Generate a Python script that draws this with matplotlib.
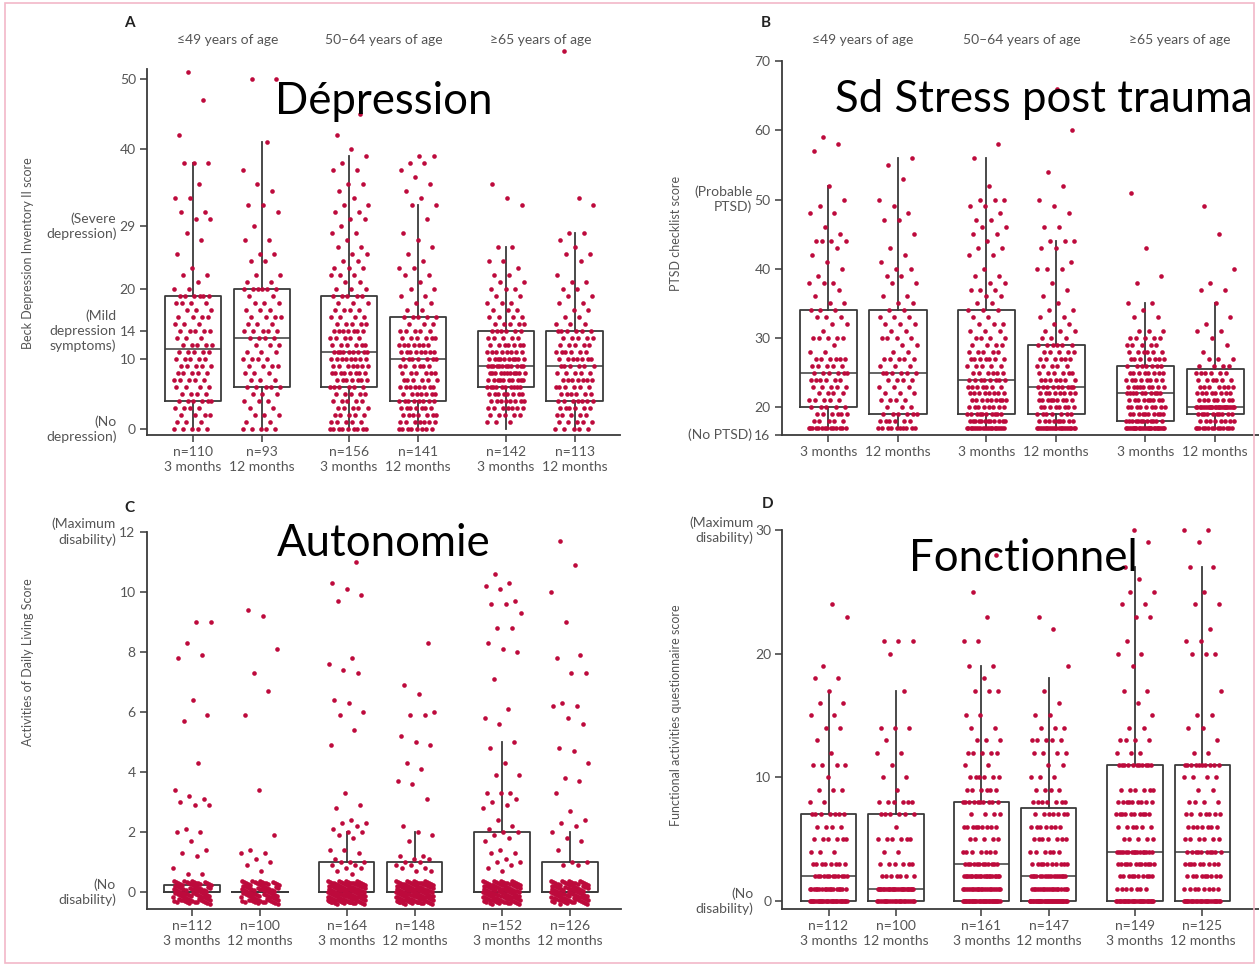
import numpy as np
import matplotlib.pyplot as plt
from matplotlib.transforms import blended_transform_factory
from matplotlib.patches import Rectangle

W, H = 1259, 966

# --- box positions and labels shared by all four panels ---
positions = [0, 1, 2.27, 3.27, 4.55, 5.55]
months = ["3 months", "12 months"] * 3
age_groups = ["≤49 years of age", "50–64 years of age", "≥65 years of age"]

# --- A: Beck Depression Inventory II (value: count per box) ---
bdi_n = [110, 93, 156, 141, 142, 113]
bdi_counts = [
    {0: 5, 1: 3, 2: 4, 3: 4, 4: 6, 5: 4, 6: 4, 7: 5, 8: 5, 9: 5, 10: 5, 11: 5, 12: 5, 13: 3,
     14: 5, 15: 3, 16: 4, 17: 3, 18: 4, 19: 6, 20: 2, 21: 1, 22: 2, 23: 1, 25: 1, 27: 1,
     28: 1, 30: 2, 31: 2, 33: 2, 35: 1, 38: 3, 42: 1, 47: 1, 51: 1},
    {0: 5, 1: 2, 2: 3, 3: 2, 4: 3, 5: 3, 6: 5, 7: 3, 8: 3, 9: 4, 10: 4, 11: 3, 12: 3, 13: 4,
     14: 5, 15: 3, 16: 4, 17: 3, 18: 3, 19: 2, 20: 6, 21: 2, 22: 2, 24: 2, 25: 2, 27: 2,
     29: 1, 31: 1, 32: 2, 34: 1, 35: 1, 37: 1, 41: 1, 50: 2},
    {0: 9, 1: 5, 2: 5, 3: 5, 4: 5, 5: 5, 6: 6, 7: 7, 8: 8, 9: 7, 10: 8, 11: 9, 12: 6, 13: 5,
     14: 7, 15: 5, 16: 4, 17: 4, 18: 3, 19: 5, 20: 3, 21: 2, 22: 3, 23: 3, 24: 2, 25: 2,
     26: 2, 27: 1, 28: 2, 29: 1, 30: 2, 31: 2, 32: 2, 33: 1, 34: 1, 35: 2, 37: 2, 38: 1,
     39: 1, 40: 1, 42: 1, 45: 1},
    {0: 8, 1: 7, 2: 7, 3: 7, 4: 8, 5: 7, 6: 8, 7: 6, 8: 6, 9: 6, 10: 7, 11: 8, 12: 7, 13: 6,
     14: 5, 15: 3, 16: 5, 17: 2, 18: 2, 19: 2, 20: 2, 21: 1, 22: 2, 23: 2, 24: 1, 25: 1,
     26: 1, 27: 1, 28: 1, 30: 1, 32: 2, 33: 1, 34: 1, 35: 1, 36: 1, 37: 1, 38: 2, 39: 2},
    {1: 3, 2: 5, 3: 7, 4: 8, 5: 8, 6: 10, 7: 10, 8: 11, 9: 12, 10: 10, 11: 8, 12: 7, 13: 5,
     14: 6, 15: 5, 16: 4, 17: 3, 18: 3, 19: 2, 20: 3, 21: 2, 22: 2, 23: 1, 24: 2, 26: 2,
     32: 1, 33: 1, 35: 1},
    {0: 5, 1: 5, 2: 5, 3: 6, 4: 7, 5: 6, 6: 6, 7: 7, 8: 5, 9: 6, 10: 7, 11: 6, 12: 5, 13: 5,
     14: 6, 15: 3, 16: 2, 17: 2, 18: 2, 19: 2, 20: 2, 21: 2, 22: 1, 24: 1, 25: 2, 26: 1,
     27: 1, 28: 2, 32: 1, 33: 1, 54: 1},
]
bdi_q1 = [4, 6, 6, 4, 6, 4]
bdi_med = [11.5, 13, 11, 10, 9, 9]
bdi_q3 = [19, 20, 19, 16, 14, 14]
bdi_lo = [0, 0, 0, 0, 0, 0]
bdi_hi = [38, 41, 39, 32, 26, 28]

# --- B: PTSD checklist ---
pcl_counts = [
    {17: 14, 18: 5, 19: 6, 20: 5, 21: 5, 22: 4, 23: 5, 24: 6, 25: 6, 26: 5, 27: 6, 28: 2,
     29: 1, 30: 5, 31: 1, 32: 2, 33: 3, 34: 3, 35: 2, 36: 1, 37: 1, 38: 3, 39: 1, 40: 1,
     41: 1, 42: 1, 43: 1, 44: 4, 45: 1, 46: 1, 48: 2, 49: 1, 50: 1, 52: 1, 57: 1, 58: 1,
     59: 1},
    {17: 10, 18: 6, 19: 6, 20: 3, 21: 4, 22: 3, 23: 3, 24: 4, 25: 6, 26: 3, 27: 5, 28: 2,
     29: 2, 30: 4, 31: 2, 32: 3, 33: 3, 34: 2, 35: 2, 36: 2, 38: 2, 39: 2, 40: 2, 41: 1,
     42: 1, 43: 1, 45: 1, 47: 2, 48: 1, 49: 1, 50: 1, 53: 1, 55: 1, 56: 1},
    {17: 20, 18: 12, 19: 10, 20: 8, 21: 9, 22: 8, 23: 7, 24: 8, 25: 6, 26: 5, 27: 7, 28: 5,
     29: 4, 30: 4, 31: 3, 32: 3, 33: 2, 34: 3, 35: 2, 36: 2, 37: 3, 38: 2, 39: 2, 40: 1,
     42: 2, 43: 2, 44: 1, 45: 2, 46: 2, 47: 2, 48: 1, 49: 2, 50: 3, 52: 1, 56: 1, 58: 1},
    {17: 22, 18: 9, 19: 7, 20: 8, 21: 9, 22: 8, 23: 9, 24: 7, 25: 6, 26: 5, 27: 6, 28: 5,
     29: 6, 30: 3, 31: 3, 32: 2, 33: 2, 34: 2, 35: 1, 36: 1, 37: 1, 38: 1, 40: 3, 41: 1,
     43: 2, 44: 3, 46: 2, 48: 1, 49: 1, 50: 1, 52: 1, 54: 1, 60: 1, 66: 1},
    {17: 25, 18: 12, 19: 10, 20: 9, 21: 9, 22: 10, 23: 9, 24: 8, 25: 8, 26: 7, 27: 7, 28: 6,
     29: 5, 30: 5, 31: 3, 33: 2, 34: 1, 35: 2, 38: 1, 39: 1, 43: 1, 51: 1},
    {17: 14, 18: 8, 19: 10, 20: 25, 21: 8, 22: 8, 23: 7, 24: 6, 25: 6, 26: 4, 27: 3, 28: 1,
     29: 1, 30: 1, 31: 2, 32: 1, 33: 1, 35: 1, 37: 2, 38: 1, 40: 1, 45: 1, 49: 1},
]
pcl_q1 = [20, 19, 19, 19, 18, 19]
pcl_med = [25, 25, 24, 23, 22, 20]
pcl_q3 = [34, 34, 34, 29, 26, 25.5]
pcl_lo = [17, 17, 17, 17, 17, 17]
pcl_hi = [52, 56, 56, 44, 35, 35]

# --- C: Activities of Daily Living (non-zero scores; the rest are 0) ---
adl_n = [112, 100, 164, 148, 152, 126]
adl_nonzero = [
    [9.0, 9.0, 8.3, 7.9, 7.8, 6.4, 5.9, 5.7, 4.3, 3.4, 3.2, 3.1, 3.0, 2.9, 2.9, 2.1, 2.0,
     2.0, 1.7, 1.4, 1.3, 1.2, 0.8, 0.6, 0.6],
    [9.4, 9.2, 8.1, 7.3, 6.7, 5.9, 3.4, 1.9, 1.4, 1.3, 1.3, 1.1, 1.0, 0.9, 0.7],
    [11.0, 10.3, 10.1, 9.9, 9.7, 7.8, 7.6, 7.4, 7.3, 6.4, 6.3, 6.0, 5.9, 5.4, 4.9, 3.3,
     2.9, 2.8, 2.4, 2.3, 2.3, 2.2, 2.1, 2.0, 2.0, 1.9, 1.8, 1.4, 1.4, 1.3, 1.1, 1.0, 1.0,
     1.0, 0.9, 0.9, 0.8, 0.8, 0.7, 0.6],
    [8.3, 6.9, 6.6, 6.0, 5.9, 5.9, 5.2, 5.0, 4.9, 4.3, 4.1, 3.7, 3.6, 3.1, 2.2, 2.0, 1.9,
     1.7, 1.2, 1.2, 1.1, 1.1, 1.0, 1.0, 0.9, 0.9, 0.8, 0.8, 0.7, 0.7],
    [10.6, 10.3, 10.2, 10.1, 9.7, 9.6, 9.6, 9.3, 8.8, 8.8, 8.3, 8.1, 8.0, 7.1, 6.1, 5.8,
     5.6, 5.0, 4.8, 4.3, 3.9, 3.9, 3.3, 3.3, 3.3, 3.1, 3.0, 2.9, 2.8, 2.4, 2.2, 2.1, 2.0,
     2.0, 1.9, 1.8, 1.7, 1.4, 1.3, 1.3, 1.1, 1.0, 1.0, 0.9, 0.8, 0.7],
    [11.7, 10.9, 10.0, 9.0, 7.9, 7.8, 7.3, 7.3, 6.3, 6.2, 6.2, 5.8, 5.6, 4.8, 4.7, 4.3,
     3.8, 3.7, 3.3, 2.7, 2.4, 2.3, 2.2, 2.0, 1.8, 1.7, 1.4, 1.0, 1.0, 0.9, 0.9],
]
adl_q1 = [0, 0, 0, 0, 0, 0]
adl_med = [0, 0, 0, 0, 0, 0]
adl_q3 = [0.25, 0, 1, 1, 2, 1]
adl_lo = [0, 0, 0, 0, 0, 0]
adl_hi = [0.25, 0, 2, 2, 5, 2]

# --- D: Functional activities questionnaire ---
faq_n = [112, 100, 161, 147, 149, 125]
faq_counts = [
    {0: 30, 1: 18, 2: 12, 3: 8, 4: 3, 5: 6, 6: 4, 7: 7, 8: 2, 9: 3, 10: 1, 11: 4, 12: 1,
     13: 1, 14: 2, 15: 2, 16: 2, 17: 1, 18: 2, 19: 1, 23: 1, 24: 1},
    {0: 24, 1: 27, 2: 7, 3: 6, 4: 2, 5: 6, 6: 1, 7: 6, 8: 6, 9: 1, 10: 2, 11: 1, 12: 2,
     13: 1, 14: 3, 17: 1, 20: 1, 21: 3},
    {0: 33, 1: 23, 2: 21, 3: 12, 4: 7, 5: 5, 6: 9, 7: 4, 8: 10, 9: 6, 10: 6, 11: 2, 12: 5,
     13: 3, 14: 2, 15: 2, 17: 3, 18: 1, 19: 2, 21: 2, 23: 1, 25: 1, 28: 1},
    {0: 38, 1: 20, 2: 17, 3: 10, 4: 6, 5: 7, 6: 7, 7: 7, 8: 7, 9: 4, 10: 3, 11: 2, 12: 4,
     13: 5, 14: 3, 15: 2, 16: 1, 17: 1, 19: 1, 22: 1, 23: 1},
    {0: 30, 1: 7, 2: 10, 3: 12, 4: 16, 5: 5, 6: 6, 7: 10, 8: 9, 9: 6, 11: 11, 12: 3, 13: 4,
     14: 2, 15: 1, 16: 1, 17: 2, 19: 1, 20: 2, 21: 1, 23: 2, 24: 2, 25: 2, 26: 1, 27: 1,
     29: 1, 30: 1},
    {0: 27, 1: 8, 2: 9, 3: 9, 4: 10, 5: 6, 6: 7, 7: 7, 8: 4, 9: 2, 10: 4, 11: 10, 12: 2,
     13: 1, 14: 2, 15: 2, 17: 1, 20: 3, 21: 2, 22: 1, 24: 2, 25: 1, 27: 2, 29: 1, 30: 2},
]
faq_q1 = [0, 0, 0, 0, 0, 0]
faq_med = [2, 1, 3, 2, 4, 4]
faq_q3 = [7, 7, 8, 7.5, 11, 11]
faq_lo = [0, 0, 0, 0, 0, 0]
faq_hi = [17, 17, 19, 18, 27, 27]

RED = "#BD0A3C"
INK = "#3a3a3a"
GREY = "#555555"
FONT = ["Lato", "DejaVu Sans"]
plt.rcParams["font.family"] = FONT

fig = plt.figure(figsize=(W / 100, H / 100), dpi=100)


def fx(px):
    return px / W


def fy(py):
    return 1 - py / H


def expand(counts):
    vals = []
    for v, c in counts.items():
        vals += [v] * c
    return np.array(vals, dtype=float)


def jitter_x(n):
    return ((np.arange(n) * 0.6180339887) % 1 - 0.5) * 0.56


def draw_panel(ax, groups, q1, med, q3, lo, hi, zero_jitter=False):
    stats = []
    for i in range(6):
        stats.append(dict(q1=q1[i], med=med[i], q3=q3[i], whislo=lo[i], whishi=hi[i]))
    ax.bxp(stats, positions=positions, widths=0.82, showfliers=False, showcaps=False,
           boxprops=dict(color=INK, linewidth=1.3),
           medianprops=dict(color=INK, linewidth=1.1),
           whiskerprops=dict(color=INK, linewidth=1.3), manage_ticks=False, zorder=2)
    for i, vals in enumerate(groups):
        vals = np.sort(vals)
        xs = positions[i] + jitter_x(len(vals))
        ys = vals.copy()
        if zero_jitter:
            zero = ys == 0
            k = np.arange(zero.sum())
            ys[zero] = ((k * 0.7548776662 + 0.31) % 1 - 0.5) * 0.78
        ax.scatter(xs, ys, s=11, color=RED, linewidths=0, zorder=3, clip_on=False)


def style_axes(ax, yticks, xlim, ylim, xlabels):
    ax.set_xlim(*xlim)
    ax.set_ylim(*ylim)
    for side in ("top", "right"):
        ax.spines[side].set_visible(False)
    for side in ("left", "bottom"):
        ax.spines[side].set_color(INK)
        ax.spines[side].set_linewidth(1.3)
    ax.set_yticks(yticks)
    ax.set_xticks(positions)
    ax.set_xticklabels(xlabels, linespacing=1.25)
    ax.tick_params(axis="both", direction="out", length=5, width=1.1, color=INK,
                   labelcolor=GREY, labelsize=10, pad=3)


def side_note(ax, y, text, dx):
    ax.annotate(text, xy=(0, y), xycoords=("axes fraction", "data"), xytext=(dx, 0),
                textcoords="offset points", ha="right", va="center", fontsize=10,
                color=GREY, linespacing=1.25, annotation_clip=False)


def headers(ax):
    tr = blended_transform_factory(ax.transData, fig.transFigure)
    for g, name in enumerate(age_groups):
        xc = (positions[2 * g] + positions[2 * g + 1]) / 2
        ax.text(xc, fy(40), name, transform=tr, ha="center", va="center",
                fontsize=10, color=GREY)


# ---------- A ----------
axA = fig.add_axes([fx(147), fy(435), fx(620) - fx(147), fy(69.3) - fy(435)])
draw_panel(axA, [expand(c) for c in bdi_counts], bdi_q1, bdi_med, bdi_q3, bdi_lo, bdi_hi)
style_axes(axA, [0, 10, 14, 20, 29, 40, 50], (-0.67, 6.21), (-0.86, 51.4),
           [f"n={n}\n{m}" for n, m in zip(bdi_n, months)])
side_note(axA, 29, "(Severe\ndepression)", -22)
side_note(axA, 14, "(Mild\ndepression\nsymptoms)", -22)
side_note(axA, 0, "(No\ndepression)", -22)
headers(axA)
fig.text(fx(28), fy(253), "Beck Depression Inventory II score", rotation=90,
         ha="center", va="center", fontsize=9, color=GREY)

# ---------- B ----------
axB = fig.add_axes([fx(781.6), fy(435), 1 - fx(781.6), fy(61) - fy(435)])
draw_panel(axB, [expand(c) for c in pcl_counts], pcl_q1, pcl_med, pcl_q3, pcl_lo, pcl_hi)
style_axes(axB, [16, 20, 30, 40, 50, 60, 70], (-0.67, 6.18), (16, 70), months)
side_note(axB, 50, "(Probable\nPTSD)", -21)
side_note(axB, 16, "(No PTSD)", -21)
headers(axB)
fig.text(fx(676), fy(233), "PTSD checklist score", rotation=90,
         ha="center", va="center", fontsize=9, color=GREY)

# ---------- C ----------
axC = fig.add_axes([fx(146.6), fy(909), fx(620.7) - fx(146.6), fy(531.7) - fy(909)])
adl_groups = [np.array(v + [0.0] * (n - len(v))) for v, n in zip(adl_nonzero, adl_n)]
draw_panel(axC, adl_groups, adl_q1, adl_med, adl_q3, adl_lo, adl_hi, zero_jitter=True)
style_axes(axC, [0, 2, 4, 6, 8, 10, 12], (-0.67, 6.3), (-0.556, 12),
           [f"n={n}\n{m}" for n, m in zip(adl_n, months)])
side_note(axC, 12, "(Maximum\ndisability)", -22)
side_note(axC, 0, "(No\ndisability)", -22)
fig.text(fx(28), fy(662), "Activities of Daily Living Score", rotation=90,
         ha="center", va="center", fontsize=9, color=GREY)

# ---------- D ----------
axD = fig.add_axes([fx(782.4), fy(909), 1 - fx(782.4), fy(530) - fy(909)])
draw_panel(axD, [expand(c) for c in faq_counts], faq_q1, faq_med, faq_q3, faq_lo, faq_hi)
style_axes(axD, [0, 10, 20, 30], (-0.685, 6.39), (-0.65, 30),
           [f"n={n}\n{m}" for n, m in zip(faq_n, months)])
side_note(axD, 30, "(Maximum\ndisability)", -21)
side_note(axD, 0, "(No\ndisability)", -21)
fig.text(fx(676), fy(715), "Functional activities questionnaire score", rotation=90,
         ha="center", va="center", fontsize=9, color=GREY)

# panel letters
for txt, px, py in [("A", 129, 23), ("B", 766, 23), ("C", 129, 508), ("D", 768, 504)]:
    fig.text(fx(px), fy(py), txt, ha="center", va="center", fontsize=11,
             fontweight="bold", color="#222222")

# big French captions on top of the panels
for txt, px, py in [("Dépression", 384, 114), ("Sd Stress post trauma", 1044, 112),
                    ("Autonomie", 384, 556), ("Fonctionnel", 1023, 571)]:
    fig.text(fx(px), fy(py), txt, ha="center", va="baseline", fontsize=31.5,
             color="black", family=["Lato", "DejaVu Sans"], zorder=10)

# thin pink frame
fig.patches.append(Rectangle((fx(5), fy(963)), fx(1254) - fx(5), fy(3) - fy(963),
                             transform=fig.transFigure, fill=False,
                             edgecolor="#F2B8C8", linewidth=1.2))

fig.savefig("out.png", dpi=100)
